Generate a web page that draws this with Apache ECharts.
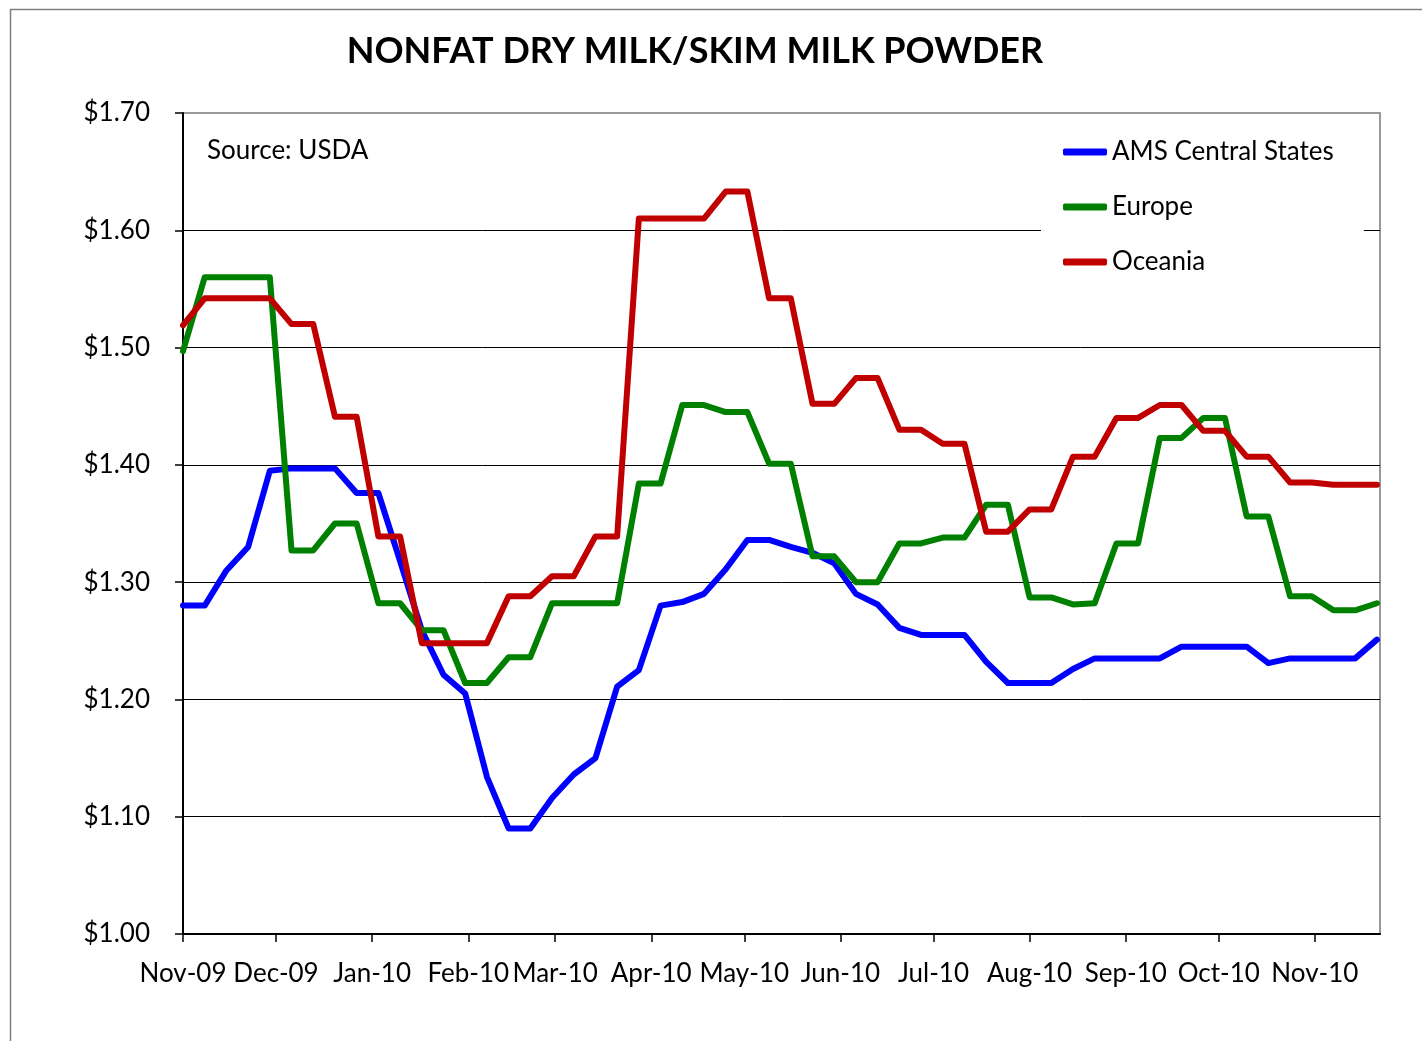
<!DOCTYPE html>
<html>
<head>
<meta charset="utf-8">
<script src="https://cdn.jsdelivr.net/npm/echarts@6/dist/echarts.min.js"></script>
<style>
html,body{margin:0;padding:0;background:#fff;}
#chart{width:1422px;height:1041px;}
</style>
</head>
<body>
<div id="chart"></div>
<script>
const weeks = [
 '2009-11-01','2009-11-08','2009-11-15','2009-11-22','2009-11-29','2009-12-06','2009-12-13','2009-12-20','2009-12-27',
 '2010-01-03','2010-01-10','2010-01-17','2010-01-24','2010-01-31','2010-02-07','2010-02-14','2010-02-21','2010-02-28',
 '2010-03-07','2010-03-14','2010-03-21','2010-03-28','2010-04-04','2010-04-11','2010-04-18','2010-04-25','2010-05-02',
 '2010-05-09','2010-05-16','2010-05-23','2010-05-30','2010-06-06','2010-06-13','2010-06-20','2010-06-27','2010-07-04',
 '2010-07-11','2010-07-18','2010-07-25','2010-08-01','2010-08-08','2010-08-15','2010-08-22','2010-08-29','2010-09-05',
 '2010-09-12','2010-09-19','2010-09-26','2010-10-03','2010-10-10','2010-10-17','2010-10-24','2010-10-31','2010-11-07',
 '2010-11-14','2010-11-21'
];
const amsCentral = [
 1.280,1.280,1.310,1.330,1.395,1.397,1.397,1.397,1.376,
 1.376,1.318,1.259,1.221,1.205,1.134,1.090,1.090,1.116,
 1.136,1.150,1.211,1.225,1.280,1.283,1.290,1.311,1.336,
 1.336,1.330,1.325,1.316,1.290,1.281,1.261,1.255,1.255,
 1.255,1.232,1.214,1.214,1.214,1.226,1.235,1.235,1.235,
 1.235,1.245,1.245,1.245,1.245,1.231,1.235,1.235,1.235,
 1.235,1.251
];
const europe = [
 1.497,1.560,1.560,1.560,1.560,1.327,1.327,1.350,1.350,
 1.282,1.282,1.259,1.259,1.214,1.214,1.236,1.236,1.282,
 1.282,1.282,1.282,1.384,1.384,1.451,1.451,1.445,1.445,
 1.401,1.401,1.322,1.322,1.300,1.300,1.333,1.333,1.338,
 1.338,1.366,1.366,1.287,1.287,1.281,1.282,1.333,1.333,
 1.423,1.423,1.440,1.440,1.356,1.356,1.288,1.288,1.276,
 1.276,1.282
];
const oceania = [
 1.519,1.542,1.542,1.542,1.542,1.520,1.520,1.441,1.441,
 1.339,1.339,1.248,1.248,1.248,1.248,1.288,1.288,1.305,
 1.305,1.339,1.339,1.610,1.610,1.610,1.610,1.633,1.633,
 1.542,1.542,1.452,1.452,1.474,1.474,1.430,1.430,1.418,
 1.418,1.343,1.343,1.362,1.362,1.407,1.407,1.440,1.440,
 1.451,1.451,1.429,1.429,1.407,1.407,1.385,1.385,1.383,
 1.383,1.383
];
const seriesNames = ['AMS Central States','Europe','Oceania'];
const seriesColors = ['#0000FF','#008000','#C00000'];
const titleText = 'NONFAT DRY MILK/SKIM MILK POWDER';
const sourceText = 'Source: USDA';
const monthNames = ['Jan','Feb','Mar','Apr','May','Jun','Jul','Aug','Sep','Oct','Nov','Dec'];

const FONT = 'Lato';
const chart = echarts.init(document.getElementById('chart'), null, {renderer:'canvas'});

function pair(vals){ return vals.map((v,i)=>[weeks[i], v]); }
const allData = [amsCentral, europe, oceania];

chart.setOption({
  backgroundColor:'#fff',
  animation:false,
  textStyle:{fontFamily:FONT},
  graphic:[
    {type:'rect', left:8, top:7, shape:{x:0,y:0,width:1500,height:1100}, style:{fill:'none', stroke:'#7f7f7f', lineWidth:1.5}, silent:true, z:-10},
    {type:'text', x:695, y:51, style:{text:titleText, font:'bold 36px '+FONT, fill:'#000', textAlign:'center', textVerticalAlign:'middle'}},
    {type:'text', x:207, y:151, style:{text:sourceText, font:'26px '+FONT, fill:'#000', textAlign:'left', textVerticalAlign:'middle'}}
  ],
  grid:{left:183, right:42, top:113, bottom:107, show:true, borderColor:'#999', borderWidth:2, backgroundColor:'transparent'},
  legend:{
    orient:'vertical', left:1041, top:125,
    padding:[12,30,12,22],
    backgroundColor:'#fff',
    itemWidth:44, itemHeight:7, itemGap:25,
    icon:'roundRect',
    textStyle:{fontFamily:FONT, fontSize:26, color:'#000', lineHeight:30},
    data:seriesNames,
    z:10
  },
  xAxis:{
    type:'time',
    min:'2009-11-01', max:'2010-11-22',
    splitNumber:12,
    minInterval:28*86400000,
    axisLine:{show:true, lineStyle:{color:'#000', width:2}},
    axisTick:{show:true, length:8, lineStyle:{color:'#000', width:1.5}},
    splitLine:{show:false},
    axisLabel:{
      fontFamily:FONT, fontSize:26, color:'#000', margin:27, hideOverlap:false,
      showMinLabel:true, showMaxLabel:false,
      formatter:function(v){ const d=new Date(v); return monthNames[d.getMonth()]+'-'+String(d.getFullYear()%100).padStart(2,'0'); }
    }
  },
  yAxis:{
    type:'value', min:1.0, max:1.7, interval:0.1,
    axisLine:{show:true, lineStyle:{color:'#000', width:2}},
    axisTick:{show:true, length:8, lineStyle:{color:'#000', width:1.5}},
    splitLine:{show:true, showMaxLine:false, showMinLine:false, lineStyle:{color:'#000', width:1}},
    axisLabel:{fontFamily:FONT, fontSize:26, color:'#000', margin:33, padding:[3,0,0,0], formatter:function(v){return '$'+v.toFixed(2);}}
  },
  series: seriesNames.map((n,i)=>({
    name:n, type:'line', data:pair(allData[i]), symbol:'none', showSymbol:false,
    lineStyle:{color:seriesColors[i], width:6, join:'round', cap:'round'},
    itemStyle:{color:seriesColors[i]},
    z:2+i
  }))
});
</script>
</body>
</html>
